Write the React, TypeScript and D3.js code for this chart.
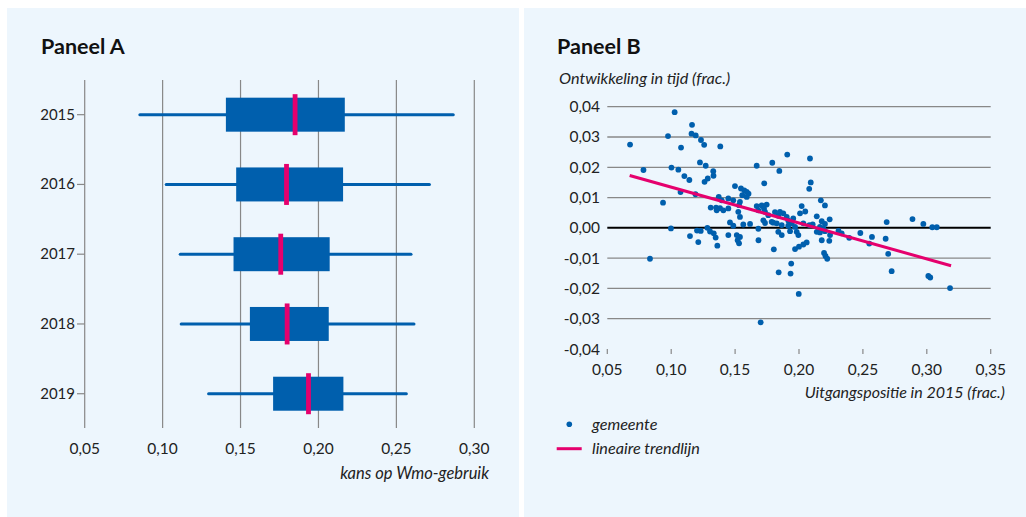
import React from 'react';
import * as d3 from 'd3';

// Paneel A: spreiding kans op Wmo-gebruik per jaar
const years = ['2015', '2016', '2017', '2018', '2019'];
const whiskerLow = [0.0854, 0.1023, 0.1113, 0.1119, 0.1295];
const quart1 = [0.1406, 0.1472, 0.1455, 0.156, 0.1709];
const medians = [0.185, 0.1795, 0.1758, 0.1799, 0.1936];
const quart3 = [0.2169, 0.2158, 0.2072, 0.2066, 0.216];
const whiskerHigh = [0.2865, 0.2712, 0.2594, 0.2613, 0.2564];
const ticksA = [0.05, 0.1, 0.15, 0.2, 0.25, 0.3];

// Paneel B: uitgangspositie 2015 vs ontwikkeling, per gemeente
const startPos = [
  0.0678, 0.0783, 0.0936, 0.0834, 0.1027, 0.0975, 0.1077, 0.1002, 0.1056, 0.1103,
  0.1142, 0.1073, 0.1163, 0.1159, 0.1192, 0.1233, 0.1258, 0.1225, 0.127, 0.1329,
  0.1331, 0.1286, 0.1261, 0.119, 0.1384, 0.1372, 0.1309, 0.1351, 0.1382, 0.0998,
  0.1147, 0.1202, 0.1231, 0.1212, 0.1283, 0.1304, 0.1333, 0.1348, 0.1361, 0.1669,
  0.1791, 0.1728, 0.1499, 0.1546, 0.1572, 0.1591, 0.1605, 0.1556, 0.1591, 0.1447,
  0.1486, 0.1395, 0.1538, 0.1531, 0.1356, 0.1408, 0.1447, 0.1525, 0.1538, 0.1669,
  0.1708, 0.1747, 0.1726, 0.1682, 0.1734, 0.176, 0.1721, 0.1734, 0.1786, 0.146,
  0.1486, 0.1564, 0.1617, 0.1682, 0.1447, 0.1513, 0.1538, 0.152, 0.1531, 0.1683,
  0.1803, 0.1908, 0.2086, 0.1846, 0.2092, 0.208, 0.2171, 0.2203, 0.2021, 0.2049,
  0.2008, 0.1812, 0.1851, 0.1877, 0.1838, 0.1904, 0.1955, 0.1916, 0.1943, 0.1799,
  0.1826, 0.1865, 0.1916, 0.1969, 0.2139, 0.2178, 0.2203, 0.224, 0.2034, 0.2081,
  0.2107, 0.2164, 0.219, 0.1838, 0.1865, 0.193, 0.1995, 0.1982, 0.2139, 0.2164,
  0.2203, 0.2243, 0.2237, 0.2178, 0.1969, 0.2, 0.2034, 0.206, 0.2196, 0.2207,
  0.2221, 0.1939, 0.1841, 0.1934, 0.1998, 0.17, 0.2309, 0.2334, 0.2393, 0.248,
  0.2571, 0.255, 0.2678, 0.2698, 0.2725, 0.2686, 0.2888, 0.2973, 0.3043, 0.3078,
  0.3012, 0.3027, 0.3182,
];
const change = [
  0.0275, 0.0191, 0.0083, -0.0102, 0.0382, 0.0303, 0.0265, 0.0199, 0.0192, 0.0171,
  0.0158, 0.0118, 0.034, 0.0311, 0.0305, 0.029, 0.0274, 0.0216, 0.0205, 0.0187,
  0.0172, 0.0163, 0.0152, 0.0111, 0.0269, 0.0102, 0.0067, 0.0067, 0.0065, -0.0002,
  -0.0027, -0.0009, -0.001, -0.0047, 0.0, -0.0012, -0.0018, -0.0032, -0.0059, 0.0205,
  0.0215, 0.0147, 0.0138, 0.013, 0.0124, 0.0119, 0.0113, 0.0108, 0.0102, 0.0097,
  0.0091, 0.0091, 0.0086, 0.0075, 0.0058, 0.0058, 0.0064, 0.0053, 0.0036, 0.0072,
  0.0074, 0.0077, 0.0064, 0.0058, 0.0053, 0.0042, 0.0025, 0.0016, 0.002, 0.0018,
  0.0007, 0.0011, 0.0013, -0.0003, -0.0024, -0.0024, -0.003, -0.0041, -0.0051, -0.0041,
  -0.0071, 0.0242, 0.0229, 0.0188, 0.015, 0.0129, 0.0091, 0.0074, 0.0072, 0.0054,
  0.0048, 0.0052, 0.0053, 0.0048, 0.004, 0.0036, 0.0031, 0.0024, 0.0015, 0.0017,
  0.0015, 0.0009, 0.0007, 0.0003, 0.0038, 0.0022, 0.0013, 0.0028, 0.0015, 0.0009,
  0.0011, 0.0003, -0.0002, -0.0013, -0.0024, -0.0011, -0.0024, -0.0013, -0.0013, -0.0015,
  -0.0011, -0.0024, -0.0043, -0.0041, -0.007, -0.0062, -0.0055, -0.0048, -0.0083, -0.0093,
  -0.0102, -0.0118, -0.0147, -0.0151, -0.0218, -0.0312, -0.001, -0.0018, -0.0033, -0.0017,
  -0.003, -0.0052, -0.0036, -0.0086, -0.0143, 0.0019, 0.0029, 0.0013, 0.0002, 0.0002,
  -0.0159, -0.0164, -0.0199,
];
const trendX = [0.0675, 0.319];
const trendY = [0.0173, -0.0125];
const ticksBx = [0.05, 0.1, 0.15, 0.2, 0.25, 0.3, 0.35];
const ticksBy = [0.04, 0.03, 0.02, 0.01, 0, -0.01, -0.02, -0.03, -0.04];

const BLUE = '#005fad';
const PINK = '#e5006d';
const BG = '#edf6fd';
const GRID = '#888888';
const FONT = 'Lato, "Open Sans", sans-serif';

const fmt = (v: number) => (v < -1e-9 ? '-' : '') + Math.abs(v).toFixed(2).replace('.', ',');

export default function App() {
  // scales panel A
  const xA = d3.scaleLinear().domain([0.05, 0.3]).range([84.7, 474.3]);
  const yA = d3.scaleBand().domain(years).range([79.8, 428.6]).padding(0);
  const boxH = 34;
  const medH = 41;

  // scales panel B
  const xB = d3.scaleLinear().domain([0.05, 0.35]).range([607.3, 990.7]);
  const yB = d3.scaleLinear().domain([-0.04, 0.04]).range([349, 106.7]);
  const trend = d3
    .line<number>()
    .x((d) => xB(d))
    .y((_, i) => yB(trendY[i]));

  return (
    <svg
      width={1026}
      height={517}
      style={{ position: 'absolute', left: 0, top: 0, display: 'block' }}
      fontFamily={FONT}
    >
      <rect width={1026} height={517} fill="#ffffff" />
      <rect x={7} y={8} width={512} height={509} fill={BG} />
      <rect x={524} y={8} width={502} height={509} fill={BG} />

      {/* Paneel A */}
      <text x={41} y={54} fontSize={21.5} fontWeight={700} fill="#111">
        Paneel A
      </text>
      {ticksA.map((t) => (
        <g key={t}>
          <line x1={xA(t)} x2={xA(t)} y1={80} y2={428} stroke={GRID} strokeWidth={1.2} />
          <text x={xA(t)} y={453.5} textAnchor="middle" fontSize={15.5} fill="#222">
            {fmt(t)}
          </text>
        </g>
      ))}
      {years.map((yr, i) => {
        const cy = (yA(yr) as number) + yA.bandwidth() / 2;
        return (
          <g key={yr}>
            <line x1={77} x2={xA(0.05)} y1={cy} y2={cy} stroke={GRID} strokeWidth={1.2} />
            <text x={75} y={cy + 5} textAnchor="end" fontSize={15} fill="#222">
              {yr}
            </text>
            <line
              x1={xA(whiskerLow[i])}
              x2={xA(whiskerHigh[i])}
              y1={cy}
              y2={cy}
              stroke={BLUE}
              strokeWidth={3}
              strokeLinecap="round"
            />
            <rect
              x={xA(quart1[i])}
              y={cy - boxH / 2}
              width={xA(quart3[i]) - xA(quart1[i])}
              height={boxH}
              fill={BLUE}
            />
            <rect x={xA(medians[i]) - 2.4} y={cy - medH / 2} width={4.8} height={medH} fill={PINK} />
          </g>
        );
      })}
      <text x={489} y={479} textAnchor="end" fontSize={16.5} fontStyle="italic" fill="#222">
        kans op Wmo-gebruik
      </text>

      {/* Paneel B */}
      <text x={557} y={54} fontSize={21.5} fontWeight={700} fill="#111">
        Paneel B
      </text>
      <text x={559} y={84} fontSize={16.2} fontStyle="italic" fill="#222">
        Ontwikkeling in tijd (frac.)
      </text>
      {ticksBy.map((t) => (
        <g key={t}>
          {t > -0.035 && (
            <line
              x1={xB(0.05)}
              x2={xB(0.35)}
              y1={yB(t)}
              y2={yB(t)}
              stroke={t === 0 ? '#000' : GRID}
              strokeWidth={t === 0 ? 2 : 1.3}
            />
          )}
          <text x={600} y={yB(t) + 5.5} textAnchor="end" fontSize={15.5} fill="#222">
            {fmt(t)}
          </text>
        </g>
      ))}
      {ticksBx.map((t) => (
        <g key={t}>
          <line x1={xB(t)} x2={xB(t)} y1={349} y2={354} stroke={GRID} strokeWidth={1.2} />
          <text x={xB(t)} y={374.5} textAnchor="middle" fontSize={15.5} fill="#222">
            {fmt(t)}
          </text>
        </g>
      ))}
      {startPos.map((x, i) => (
        <circle key={i} cx={xB(x)} cy={yB(change[i])} r={2.9} fill={BLUE} />
      ))}
      <path d={trend(trendX) || ''} stroke={PINK} strokeWidth={3} fill="none" />
      <text x={1005} y={398} textAnchor="end" fontSize={16} fontStyle="italic" fill="#222">
        Uitgangspositie in 2015 (frac.)
      </text>

      {/* legenda */}
      <circle cx={569.3} cy={424.3} r={2.8} fill={BLUE} />
      <text x={592} y={429.5} fontSize={16.2} fontStyle="italic" fill="#222">
        gemeente
      </text>
      <line x1={556.7} x2={581.7} y1={448.7} y2={448.7} stroke={PINK} strokeWidth={3} />
      <text x={592} y={453.5} fontSize={16.2} fontStyle="italic" fill="#222">
        lineaire trendlijn
      </text>
    </svg>
  );
}
